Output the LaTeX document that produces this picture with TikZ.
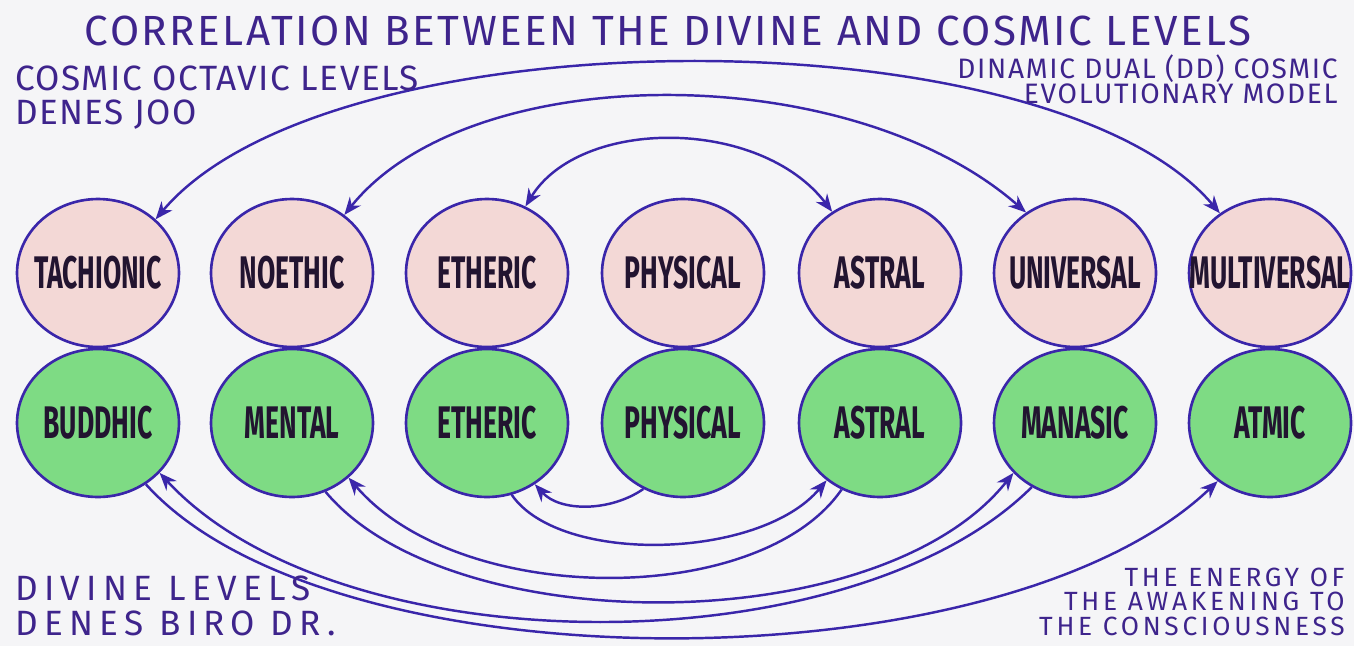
\documentclass[tikz,border=0pt]{standalone}
\usepackage{graphicx}
\usepackage{fontspec}
\setmainfont{Fira Sans}
\usepackage{tikz}
\usetikzlibrary{arrows.meta, shapes.geometric}

\definecolor{paper}{RGB}{245,245,247}
\definecolor{pen}{RGB}{58,38,170}
\definecolor{ink}{RGB}{62,36,140}
\definecolor{lettr}{RGB}{34,20,48}
\definecolor{cosmicfill}{RGB}{243,216,214}
\definecolor{divinefill}{RGB}{126,219,132}

% level names: tall, narrow letters that fill the disc
\newcommand{\lvltxt}[1]{\makebox[0pt][c]{\scalebox{0.58}[1]{#1}}}
% hand lettering: size, line skip, letter spacing
\newcommand{\hand}[3]{\fontsize{#1}{#2}\selectfont\addfontfeature{LetterSpace=#3}}

\begin{document}
\begin{tikzpicture}[
  x=0.02cm, y=-0.02cm,
  level/.style  = {ellipse, draw=pen, line width=1.5pt,
                   minimum width=3.24cm, minimum height=2.96cm, inner sep=0pt,
                   font=\fontsize{26}{28}\selectfont\bfseries, text=lettr},
  cosmic/.style = {level, fill=cosmicfill},
  divine/.style = {level, fill=divinefill},
  note/.style   = {text=ink, inner sep=0pt},
  flow/.style   = {draw=pen, line width=1.4pt, -{Stealth[length=10pt,width=8pt]}},
  swap/.style   = {draw=pen, line width=1.4pt,
                   {Stealth[length=10pt,width=8pt]}-{Stealth[length=10pt,width=8pt]}},
]

%% ── Page ────────────────────────────────────────────────────────────────
\fill[paper] (0,0) rectangle (1354,646);
\useasboundingbox (0,0) rectangle (1354,646);

\def\ytop{273}   % cosmic row
\def\ybot{423}   % divine row

% ── Cosmic octavic levels (top row) ───────────────────────────────────────
\node[cosmic] (tach)  at (98,\ytop)   {\lvltxt{TACHIONIC}};
\node[cosmic] (noet)  at (292,\ytop)  {\lvltxt{NOETHIC}};
\node[cosmic] (ethc)  at (487,\ytop)  {\lvltxt{ETHERIC}};
\node[cosmic] (physc) at (683,\ytop)  {\lvltxt{PHYSICAL}};
\node[cosmic] (astc)  at (880,\ytop)  {\lvltxt{ASTRAL}};
\node[cosmic] (univ)  at (1075,\ytop) {\lvltxt{UNIVERSAL}};
\node[cosmic] (multi) at (1270,\ytop) {\lvltxt{MULTIVERSAL}};

% ── Divine levels (bottom row) ────────────────────────────────────────────
\node[divine] (budd)  at (98,\ybot)   {\lvltxt{BUDDHIC}};
\node[divine] (ment)  at (292,\ybot)  {\lvltxt{MENTAL}};
\node[divine] (ethd)  at (487,\ybot)  {\lvltxt{ETHERIC}};
\node[divine] (physd) at (683,\ybot)  {\lvltxt{PHYSICAL}};
\node[divine] (astd)  at (880,\ybot)  {\lvltxt{ASTRAL}};
\node[divine] (man)   at (1075,\ybot) {\lvltxt{MANASIC}};
\node[divine] (atm)   at (1270,\ybot) {\lvltxt{ATMIC}};

% ── Upper arcs: paired cosmic levels ──────────────────────────────────────
\draw[swap] (tach.43) .. controls (330,12) and (1050,12) .. (multi.130);
\draw[swap] (noet.48) .. controls (470,58) and (850,58) .. (univ.129);
\draw[swap] (ethc.60) .. controls (580,117) and (760,117) .. (astc.128);

% ── Lower arcs: the awakening spiral ──────────────────────────────────────
\draw[flow] (physd.-121) .. controls (610,512) and (560,512) .. (ethd.-52);
\draw[flow] (ethd.-71)   .. controls (560,565) and (760,560) .. (astd.-133);
\draw[flow] (astd.-120)  .. controls (760,608) and (460,608) .. (ment.-44);
\draw[flow] (ment.-64)   .. controls (450,641) and (880,641) .. (man.-141);
\draw[flow] (man.-124)   .. controls (850,668) and (340,668) .. (budd.-39);
\draw[flow] (budd.-52)   .. controls (330,689) and (1000,689) .. (atm.-132);

% ── Texts ─────────────────────────────────────────────────────────────────
\node[note, font=\hand{24}{26}{6}] (title) at (668,31)
  {CORRELATION BETWEEN THE DIVINE AND COSMIC LEVELS};

\node[note, anchor=north west, align=left, font=\hand{20}{19}{4}] (octv) at (15,66)
  {COSMIC OCTAVIC LEVELS\\DENES JOO};

\node[note, anchor=north east, align=right, font=\hand{16}{14.5}{6}] (ddm) at (1338,54)
  {DINAMIC DUAL (DD) COSMIC\\EVOLUTIONARY MODEL};

\node[note, anchor=south west, align=left, font=\hand{20}{20}{18}] (divl) at (15,636)
  {DIVINE LEVELS\\DENES BIRO DR.};

\node[note, anchor=south east, align=right, font=\hand{15}{14}{14}] (enrg) at (1345,636)
  {THE ENERGY OF\\THE AWAKENING TO\\THE CONSCIOUSNESS};

\end{tikzpicture}
\end{document}
